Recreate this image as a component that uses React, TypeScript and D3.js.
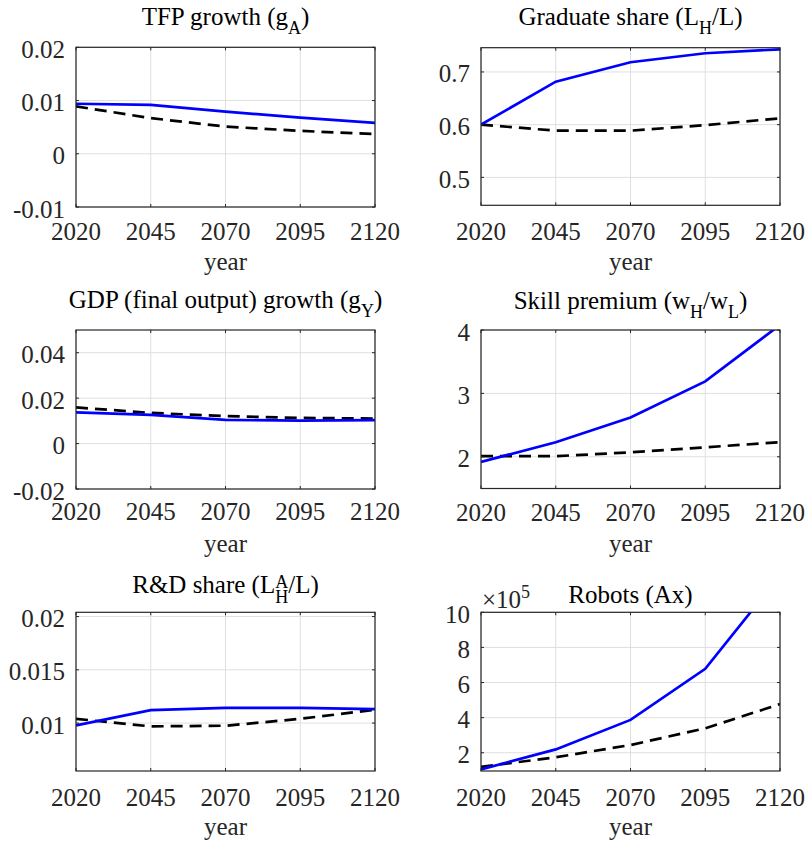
import React, { useEffect, useRef } from 'react';
import * as d3 from 'd3';

// ---------- data ----------
const years = [2020, 2045, 2070, 2095, 2120];
const xTicks = [2020, 2045, 2070, 2095, 2120];

const tfpBlue = [0.0094, 0.0092, 0.0079, 0.0068, 0.0058];
const tfpBlack = [0.0089, 0.0067, 0.0051, 0.0043, 0.0037];

const gradBlue = [0.6, 0.6816, 0.7184, 0.7355, 0.743];
const gradBlack = [0.6, 0.5886, 0.5886, 0.599, 0.6121];

const gdpBlue = [0.0137, 0.0126, 0.0104, 0.0101, 0.0103];
const gdpBlack = [0.0159, 0.0135, 0.0121, 0.0113, 0.011];

const skillBlue = [1.92, 2.23, 2.62, 3.19, 4.08];
const skillBlack = [2.01, 2.01, 2.07, 2.15, 2.23];

const rdBlue = [0.00978, 0.01122, 0.01143, 0.01143, 0.01131];
const rdBlack = [0.0104, 0.00969, 0.00975, 0.0104, 0.01125];

// robots, in units of 1e5
const robotBlue = [1.05, 2.19, 3.87, 6.78, 12.1];
const robotBlack = [1.2, 1.74, 2.44, 3.39, 4.77];

const tfpTicks = [-0.01, 0, 0.01, 0.02];
const tfpTickLabels = ['-0.01', '0', '0.01', '0.02'];
const gradTicks = [0.5, 0.6, 0.7];
const gradTickLabels = ['0.5', '0.6', '0.7'];
const gdpTicks = [-0.02, 0, 0.02, 0.04];
const gdpTickLabels = ['-0.02', '0', '0.02', '0.04'];
const skillTicks = [2, 3, 4];
const skillTickLabels = ['2', '3', '4'];
const rdTicks = [0.01, 0.015, 0.02];
const rdTickLabels = ['0.01', '0.015', '0.02'];
const robotTicks = [2, 4, 6, 8, 10];
const robotTickLabels = ['2', '4', '6', '8', '10'];

// ---------- style ----------
const FONT = '"Liberation Serif", serif';
const FS = 25;
const SFS = 18;
const AXIS = '#262626';
const GRID = '#dfdfdf';
const BLUE = '#0000ff';

type Cfg = {
  id: string;
  box: { l: number; r: number; t: number; b: number };
  yDomain: [number, number];
  yTicks: number[];
  yTickLabels: string[];
  blue: number[];
  black: number[];
  title: React.ReactNode;
  titleY: number;
  xtickY: number;
  yearY: number;
  extra?: React.ReactNode;
};

const txt = { fontFamily: FONT, fontSize: `${FS}px` };
const sub = { fontFamily: FONT, fontSize: `${SFS}px` };

const panels: Cfg[] = [
  {
    id: 'p1',
    box: { l: 76, r: 375, t: 47.3, b: 207 },
    yDomain: [-0.01, 0.02],
    yTicks: tfpTicks,
    yTickLabels: tfpTickLabels,
    blue: tfpBlue,
    black: tfpBlack,
    title: (
      <>
        <tspan>TFP growth (g</tspan>
        <tspan className="s" style={sub} dy={9}>A</tspan>
        <tspan dy={-9}>)</tspan>
      </>
    ),
    titleY: 25,
    xtickY: 240,
    yearY: 270,
  },
  {
    id: 'p2',
    box: { l: 481, r: 780, t: 47.7, b: 205.3 },
    yDomain: [0.447, 0.746],
    yTicks: gradTicks,
    yTickLabels: gradTickLabels,
    blue: gradBlue,
    black: gradBlack,
    title: (
      <>
        <tspan>Graduate share (L</tspan>
        <tspan className="s" style={sub} dy={9}>H</tspan>
        <tspan dy={-9}>/L)</tspan>
      </>
    ),
    titleY: 25,
    xtickY: 240,
    yearY: 270,
  },
  {
    id: 'p3',
    box: { l: 76, r: 375, t: 330, b: 489 },
    yDomain: [-0.02, 0.05],
    yTicks: gdpTicks,
    yTickLabels: gdpTickLabels,
    blue: gdpBlue,
    black: gdpBlack,
    title: (
      <>
        <tspan>GDP (final output) growth (g</tspan>
        <tspan className="s" style={sub} dy={9}>Y</tspan>
        <tspan dy={-9}>)</tspan>
      </>
    ),
    titleY: 308,
    xtickY: 520,
    yearY: 552,
  },
  {
    id: 'p4',
    box: { l: 481, r: 780, t: 330, b: 488.5 },
    yDomain: [1.5, 4],
    yTicks: skillTicks,
    yTickLabels: skillTickLabels,
    blue: skillBlue,
    black: skillBlack,
    title: (
      <>
        <tspan>Skill premium (w</tspan>
        <tspan className="s" style={sub} dy={9}>H</tspan>
        <tspan dy={-9}>/w</tspan>
        <tspan className="s" style={sub} dy={9}>L</tspan>
        <tspan dy={-9}>)</tspan>
      </>
    ),
    titleY: 309,
    xtickY: 521,
    yearY: 552,
  },
  {
    id: 'p5',
    box: { l: 76, r: 375, t: 612.3, b: 771 },
    yDomain: [0.0055, 0.0204],
    yTicks: rdTicks,
    yTickLabels: rdTickLabels,
    blue: rdBlue,
    black: rdBlack,
    title: (
      <>
        <tspan>R&amp;D share (L</tspan>
        <tspan className="s" style={sub} dy={-5}>A</tspan>
        <tspan className="s" style={sub} dx={-13} dy={15}>H</tspan>
        <tspan dy={-10}>/L)</tspan>
      </>
    ),
    titleY: 592.5,
    xtickY: 806,
    yearY: 835,
  },
  {
    id: 'p6',
    box: { l: 481, r: 780, t: 612.3, b: 771 },
    yDomain: [0.96, 10],
    yTicks: robotTicks,
    yTickLabels: robotTickLabels,
    blue: robotBlue,
    black: robotBlack,
    title: <tspan>Robots (Ax)</tspan>,
    titleY: 603,
    xtickY: 806,
    yearY: 835,
    extra: (
      <text x={482} y={607.5} style={txt} fill={AXIS}>
        <tspan>×10</tspan>
        <tspan className="s" style={sub} dy={-10}>5</tspan>
      </text>
    ),
  },
];

function Panel({ cfg }: { cfg: Cfg }) {
  const { box } = cfg;
  const x = d3.scaleLinear().domain([2020, 2120]).range([box.l, box.r]);
  const y = d3.scaleLinear().domain(cfg.yDomain).range([box.b, box.t]);
  const line = d3
    .line<number>()
    .x((_, i) => x(years[i]))
    .y((d) => y(d));
  const tl = 3;
  const cx = (box.l + box.r) / 2;
  return (
    <g>
      <defs>
        <clipPath id={`clip-${cfg.id}`}>
          <rect x={box.l} y={box.t} width={box.r - box.l} height={box.b - box.t} />
        </clipPath>
      </defs>
      <rect x={box.l} y={box.t} width={box.r - box.l} height={box.b - box.t} fill="#fff" />
      {xTicks.map((t) => (
        <line key={`gx${t}`} x1={x(t)} x2={x(t)} y1={box.t} y2={box.b} stroke={GRID} strokeWidth={1} />
      ))}
      {cfg.yTicks.map((t) => (
        <line key={`gy${t}`} x1={box.l} x2={box.r} y1={y(t)} y2={y(t)} stroke={GRID} strokeWidth={1} />
      ))}
      <g clipPath={`url(#clip-${cfg.id})`}>
        <path d={line(cfg.black) || ''} fill="none" stroke="#000" strokeWidth={2.7} strokeDasharray="12,7" />
        <path d={line(cfg.blue) || ''} fill="none" stroke={BLUE} strokeWidth={2.7} />
      </g>
      {xTicks.map((t) => (
        <g key={`tx${t}`}>
          <line x1={x(t)} x2={x(t)} y1={box.b} y2={box.b - tl} stroke={AXIS} strokeWidth={1} />
          <line x1={x(t)} x2={x(t)} y1={box.t} y2={box.t + tl} stroke={AXIS} strokeWidth={1} />
        </g>
      ))}
      {cfg.yTicks.map((t) => (
        <g key={`ty${t}`}>
          <line x1={box.l} x2={box.l + tl} y1={y(t)} y2={y(t)} stroke={AXIS} strokeWidth={1} />
          <line x1={box.r} x2={box.r - tl} y1={y(t)} y2={y(t)} stroke={AXIS} strokeWidth={1} />
        </g>
      ))}
      <rect x={box.l} y={box.t} width={box.r - box.l} height={box.b - box.t} fill="none" stroke={AXIS} strokeWidth={1.2} />
      {xTicks.map((t) => (
        <text key={`lx${t}`} x={x(t)} y={cfg.xtickY} textAnchor="middle" style={txt} fill={AXIS}>
          {String(t)}
        </text>
      ))}
      {cfg.yTicks.map((t, i) => (
        <text key={`ly${t}`} x={box.l - 11} y={y(t) + 10.5} textAnchor="end" style={txt} fill={AXIS}>
          {cfg.yTickLabels[i]}
        </text>
      ))}
      <text x={cx} y={cfg.yearY} textAnchor="middle" style={txt} fill={AXIS}>
        year
      </text>
      <text x={cx} y={cfg.titleY} textAnchor="middle" style={txt} fill="#000">
        {cfg.title}
      </text>
      {cfg.extra}
    </g>
  );
}

export default function App() {
  const ref = useRef<SVGSVGElement | null>(null);
  useEffect(() => {
    if (!ref.current) return;
    const svg = d3.select(ref.current);
    svg
      .selectAll('text')
      .attr('font-family', 'Liberation Serif')
      .style('font-family', '"Liberation Serif", serif')
      .style('font-size', `${FS}px`);
    svg.selectAll('tspan.s').style('font-size', `${SFS}px`);
  }, []);
  return (
    <svg
      ref={ref}
      width={807}
      height={845}
      style={{ position: 'absolute', left: 0, top: 0, fontFamily: FONT }}
    >
      <rect x={0} y={0} width={807} height={845} fill="#fff" />
      {panels.map((p) => (
        <Panel key={p.id} cfg={p} />
      ))}
    </svg>
  );
}
